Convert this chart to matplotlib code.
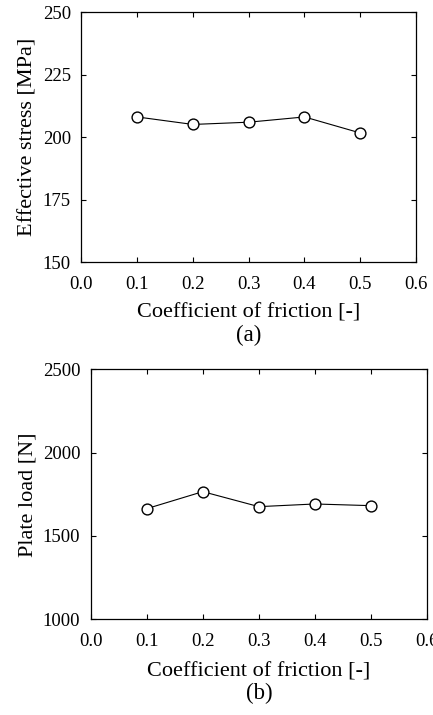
import matplotlib
matplotlib.use("Agg")
import matplotlib.pyplot as plt

plt.rcParams['font.family'] = ['Liberation Serif', 'DejaVu Serif']

friction = [0.1, 0.2, 0.3, 0.4, 0.5]
stress = [208.1, 205.1, 206.0, 208.1, 201.7]
load = [1664, 1766, 1676, 1692, 1682]

x_ticks = [0.0, 0.1, 0.2, 0.3, 0.4, 0.5, 0.6]
stress_ticks = [150, 175, 200, 225, 250]
load_ticks = [1000, 1500, 2000, 2500]

fig = plt.figure(figsize=(4.33, 7.15), dpi=100)
ax1 = fig.add_axes([0.1878, 0.6331, 0.773, 0.350])
ax2 = fig.add_axes([0.2095, 0.1338, 0.7767, 0.3497])

# (axes, values, y ticks, y label, panel tag, xlabel y, ylabel x, tag y in px)
panels = [
    (ax1, stress, stress_ticks, 'Effective stress [MPa]', '(a)', -0.203, -0.16, 335),
    (ax2, load, load_ticks, 'Plate load [N]', '(b)', -0.212, -0.187, 693),
]

for ax, vals, yt, ylab, tag, xl_y, yl_x, tag_y in panels:
    ax.plot(friction, vals, '-o', color='black', lw=0.8, ms=7.8,
            mfc='white', mec='black', mew=1.0, clip_on=False)
    ax.set_xlim(0.0, 0.6)
    ax.set_ylim(yt[0], yt[-1])
    ax.set_xticks(x_ticks)
    ax.set_xticklabels([f"{v:.1f}" for v in x_ticks])
    ax.set_yticks(yt)
    ax.tick_params(direction='in', top=True, right=True, length=3.5,
                   width=0.8, labelsize=13.5)
    ax.tick_params(axis='x', pad=9.5)
    ax.tick_params(axis='y', pad=7.5)
    for s in ax.spines.values():
        s.set_linewidth(0.9)
    ax.set_xlabel('Coefficient of friction [-]', fontsize=16, va='center')
    ax.xaxis.set_label_coords(0.5, xl_y)
    ax.set_ylabel(ylab, fontsize=16, va='center')
    ax.yaxis.set_label_coords(yl_x, 0.5)
    bb = ax.get_position()
    fig.text(bb.x0 + bb.width / 2, 1 - tag_y / 715, tag, fontsize=16.5,
             ha='center', va='center')

fig.savefig("out.png", dpi=100)
